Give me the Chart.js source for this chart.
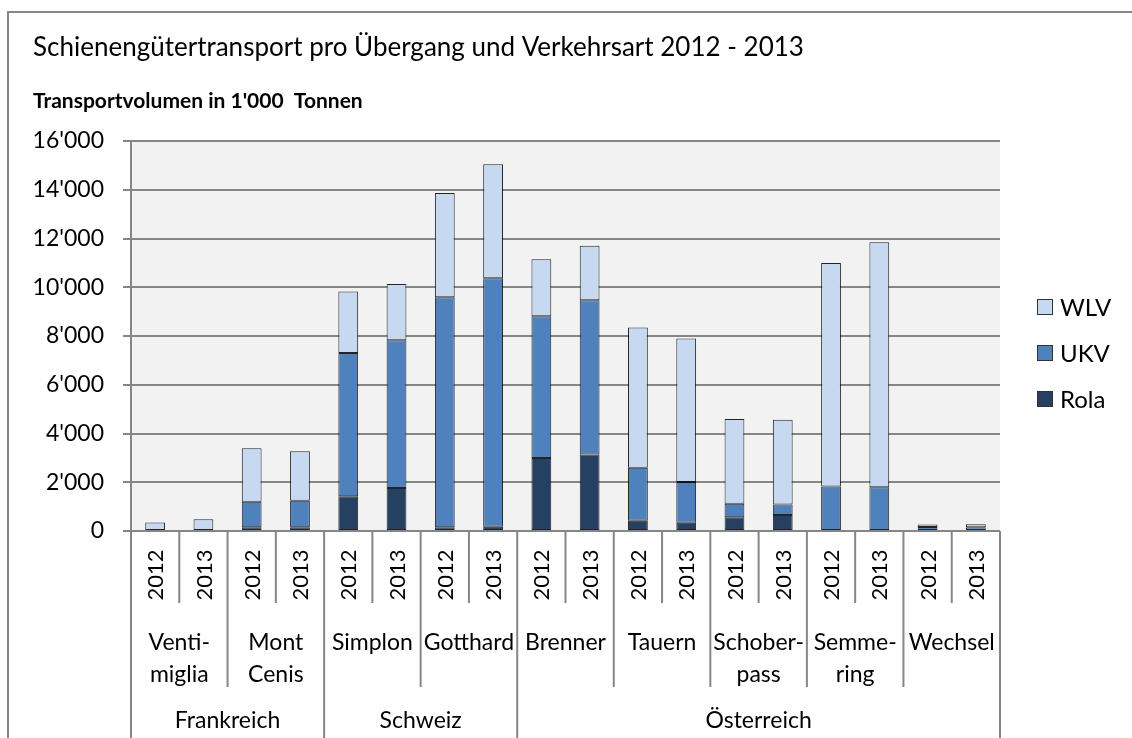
<!DOCTYPE html>
<html>
<head>
<meta charset="utf-8">
<script src="https://cdn.jsdelivr.net/npm/chart.js@4"></script>
<style>
  body { margin: 0; background: #fff; }
  canvas { display: block; }
</style>
</head>
<body>
<canvas id="grafico" width="1132" height="738"></canvas>
<script>
// Daten
const jahre = ['2012', '2013'];
const uebergaenge = [['Venti-', 'miglia'], ['Mont', 'Cenis'], ['Simplon'], ['Gotthard'], ['Brenner'],
  ['Tauern'], ['Schober-', 'pass'], ['Semme-', 'ring'], ['Wechsel']];
const laender = ['Frankreich', 'Schweiz', 'Österreich'];
const uebergaengeProLand = [2, 2, 5];
const kategorien = ['Ventimiglia 2012', 'Ventimiglia 2013', 'Mont Cenis 2012', 'Mont Cenis 2013',
  'Simplon 2012', 'Simplon 2013', 'Gotthard 2012', 'Gotthard 2013', 'Brenner 2012', 'Brenner 2013',
  'Tauern 2012', 'Tauern 2013', 'Schoberpass 2012', 'Schoberpass 2013', 'Semmering 2012',
  'Semmering 2013', 'Wechsel 2012', 'Wechsel 2013'];
const rola = [0, 0, 150, 150, 1430, 1760, 150, 170, 3000, 3140, 420, 340, 560, 660, 0, 0, 0, 0];
const ukv = [0, 0, 1050, 1090, 5870, 6070, 9440, 10200, 5810, 6330, 2170, 1670, 560, 430, 1830, 1790, 160, 150];
const wlv = [350, 480, 2190, 2030, 2530, 2300, 4280, 4680, 2340, 2230, 5760, 5890, 3480, 3470, 9170, 10060, 110, 130];
const yTicks = ['0', "2'000", "4'000", "6'000", "8'000", "10'000", "12'000", "14'000", "16'000"];

const schrift = 'Lato, "Open Sans", sans-serif';
const grau = '#868686';

// Hintergrund, Titel, mehrstufige Achse und Legende
const zeichnen = {
  id: 'zeichnen',
  beforeDraw(chart) {
    const { ctx, chartArea: a } = chart;
    ctx.save();
    ctx.fillStyle = '#f2f2f2';
    ctx.fillRect(a.left, a.top, a.right - a.left, a.bottom - a.top);
    ctx.restore();
  },
  afterDraw(chart) {
    const { ctx, chartArea: a } = chart;
    const x = chart.scales.x;
    const breite = (a.right - a.left) / kategorien.length;
    const unten = chart.height;
    ctx.save();

    // Rahmen
    ctx.strokeStyle = grau;
    ctx.lineWidth = 2;
    ctx.beginPath();
    ctx.moveTo(8, unten);
    ctx.lineTo(8, 12);
    ctx.lineTo(chart.width, 12);
    ctx.stroke();

    // Titel
    ctx.fillStyle = '#000';
    ctx.textAlign = 'left';
    ctx.textBaseline = 'middle';
    ctx.font = '26px ' + schrift;
    ctx.fillText('Schienengütertransport pro Übergang und Verkehrsart 2012 - 2013', 33, 48);
    ctx.font = 'bold 21px ' + schrift;
    ctx.fillText("Transportvolumen in 1'000  Tonnen", 33, 101);

    // Trennlinien der Achse
    ctx.strokeStyle = grau;
    ctx.lineWidth = 2;
    const linie = (px, bis) => {
      ctx.beginPath();
      ctx.moveTo(px, a.bottom);
      ctx.lineTo(px, bis);
      ctx.stroke();
    };
    let k = 0;
    linie(a.left, unten);
    uebergaengeProLand.forEach(n => {
      for (let p = 0; p < n; p++) {
        linie(a.left + (k + 1) * breite, 603);
        k += 2;
        if (p < n - 1) linie(a.left + k * breite, 687);
      }
      linie(a.left + k * breite, unten);
    });

    // Jahre
    ctx.fillStyle = '#000';
    ctx.font = '22px ' + schrift;
    ctx.textAlign = 'center';
    kategorien.forEach((c, i) => {
      ctx.save();
      ctx.translate(x.getPixelForValue(i), 575);
      ctx.rotate(-Math.PI / 2);
      ctx.fillText(jahre[i % 2], 0, 1);
      ctx.restore();
    });

    // Übergänge
    ctx.font = '23px ' + schrift;
    uebergaenge.forEach((zeilen, j) => {
      const mitte = (x.getPixelForValue(2 * j) + x.getPixelForValue(2 * j + 1)) / 2;
      zeilen.forEach((t, z) => ctx.fillText(t, mitte, 643 + z * 32));
    });

    // Länder
    k = 0;
    laender.forEach((l, j) => {
      const von = a.left + k * breite;
      k += uebergaengeProLand[j] * 2;
      const bis = a.left + k * breite;
      ctx.fillText(l, (von + bis) / 2, 721);
    });

    // Legende
    const eintraege = chart.data.datasets.slice().reverse();
    ctx.textAlign = 'left';
    ctx.font = '24px ' + schrift;
    eintraege.forEach((d, i) => {
      const y = 307 + i * 46;
      ctx.fillStyle = d.backgroundColor;
      ctx.fillRect(1037, y - 8, 16, 16);
      ctx.strokeStyle = '#333';
      ctx.lineWidth = 1;
      ctx.strokeRect(1037.5, y - 7.5, 15, 15);
      ctx.fillStyle = '#000';
      ctx.fillText(d.label, 1060, y + 1);
    });
    ctx.restore();
  }
};

const ctx = document.getElementById('grafico').getContext('2d');
new Chart(ctx, {
  type: 'bar',
  data: {
    labels: kategorien,
    datasets: [
      { label: 'Rola', data: rola, backgroundColor: '#254061' },
      { label: 'UKV', data: ukv, backgroundColor: '#4f81bd' },
      { label: 'WLV', data: wlv, backgroundColor: '#c6d9f1' }
    ].map(d => Object.assign(d, {
      borderColor: 'rgba(0,0,0,0.85)',
      borderWidth: c => (c.raw ? 1 : 0),
      borderSkipped: false,
      categoryPercentage: 1, barPercentage: 0.41
    }))
  },
  options: {
    responsive: false,
    animation: false,
    layout: { padding: { top: 141, right: 132, bottom: 207, left: 0 } },
    plugins: {
      legend: { display: false },
      title: { display: false },
      tooltip: { enabled: false }
    },
    scales: {
      x: { stacked: true, display: false },
      y: {
        stacked: true,
        min: 0,
        max: 16000,
        afterFit: s => { s.width = 131; },
        ticks: {
          stepSize: 2000,
          padding: 19,
          color: '#000',
          font: { family: schrift, size: 23 },
          callback: (v, i) => yTicks[i]
        },
        grid: { color: grau, lineWidth: 2, tickLength: 8 },
        border: { color: grau, width: 2 }
      }
    }
  },
  plugins: [zeichnen]
});
</script>
</body>
</html>
